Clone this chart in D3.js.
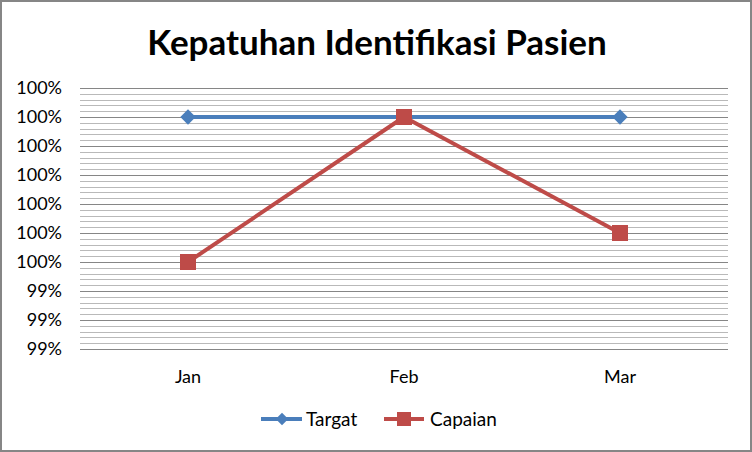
<!DOCTYPE html>
<html>
<head>
<meta charset="utf-8">
<title>Kepatuhan Identifikasi Pasien</title>
<script src="https://cdn.jsdelivr.net/npm/d3@7"></script>
<style>
  body { margin: 0; background: #fff; }
  text { font-family: Lato, "Open Sans", sans-serif; fill: #000; }
</style>
</head>
<body>
<script>
// data
var months = ["Jan", "Feb", "Mar"];
var targat = [1.000, 1.000, 1.000];
var capaian = [0.995, 1.000, 0.996];
var yTicks = [1.001, 1.000, 0.999, 0.998, 0.997, 0.996, 0.995, 0.994, 0.993, 0.992];
var yTickLabels = ["100%", "100%", "100%", "100%", "100%", "100%", "100%", "99%", "99%", "99%"];

var w = 752, h = 452;
var blue = "#4a7ebb", red = "#be4b48";

var svg = d3.select("body").append("svg")
  .attr("width", w)
  .attr("height", h);

// outer frame
svg.append("rect")
  .attr("x", 1).attr("y", 1)
  .attr("width", w - 2).attr("height", h - 2)
  .attr("fill", "#fff")
  .attr("stroke", "#868686")
  .attr("stroke-width", 2);

var x = d3.scalePoint().domain(months).range([80, 728]).padding(0.5);
var y = d3.scaleLinear().domain([0.992, 1.001]).range([349, 88]);

// minor gridlines (5 per major step)
var minor = d3.range(0, 45).map(function(i) { return 0.992 + i * 0.0002; })
  .filter(function(d, i) { return i % 5 != 0; });
svg.append("g").selectAll("line")
  .data(minor)
  .enter()
  .append("line")
  .attr("x1", 80).attr("x2", 728)
  .attr("y1", function(d) { return Math.round(y(d)) + 0.5; })
  .attr("y2", function(d) { return Math.round(y(d)) + 0.5; })
  .attr("stroke", "#b9b9b9")
  .attr("stroke-width", 1);

// major gridlines
svg.append("g").selectAll("line")
  .data(yTicks)
  .enter()
  .append("line")
  .attr("x1", 80).attr("x2", 728)
  .attr("y1", function(d) { return Math.round(y(d)) + 0.5; })
  .attr("y2", function(d) { return Math.round(y(d)) + 0.5; })
  .attr("stroke", "#868686")
  .attr("stroke-width", 1);

// y labels
svg.append("g").selectAll("text")
  .data(yTicks)
  .enter()
  .append("text")
  .attr("x", 62)
  .attr("y", function(d) { return y(d); })
  .attr("dy", "0.35em")
  .attr("text-anchor", "end")
  .attr("font-size", "18px")
  .text(function(d, i) { return yTickLabels[i]; });

// x labels
svg.append("g").selectAll("text")
  .data(months)
  .enter()
  .append("text")
  .attr("x", function(d) { return x(d); })
  .attr("y", 377)
  .attr("dy", "0.35em")
  .attr("text-anchor", "middle")
  .attr("font-size", "18px")
  .text(function(d) { return d; });

// title
svg.append("text")
  .attr("x", 377)
  .attr("y", 55)
  .attr("text-anchor", "middle")
  .attr("font-size", "35px")
  .attr("font-weight", "bold")
  .text("Kepatuhan Identifikasi Pasien");

var line = d3.line()
  .x(function(d, i) { return x(months[i]); })
  .y(function(d) { return y(d); });

svg.append("path")
  .datum(targat)
  .attr("d", line)
  .attr("fill", "none")
  .attr("stroke", blue)
  .attr("stroke-width", 4)
  .attr("stroke-linejoin", "round");

svg.append("g").selectAll("path")
  .data(targat)
  .enter()
  .append("path")
  .attr("d", d3.symbol().type(d3.symbolDiamond2).size(150))
  .attr("transform", function(d, i) { return "translate(" + x(months[i]) + "," + y(d) + ")"; })
  .attr("fill", blue);

svg.append("path")
  .datum(capaian)
  .attr("d", line)
  .attr("fill", "none")
  .attr("stroke", red)
  .attr("stroke-width", 4)
  .attr("stroke-linejoin", "round");

svg.append("g").selectAll("rect")
  .data(capaian)
  .enter()
  .append("rect")
  .attr("x", function(d, i) { return x(months[i]) - 8; })
  .attr("y", function(d) { return y(d) - 8; })
  .attr("width", 16)
  .attr("height", 16)
  .attr("fill", red);

// legend
var legend = svg.append("g");
legend.append("line")
  .attr("x1", 261).attr("x2", 302).attr("y1", 419).attr("y2", 419)
  .attr("stroke", blue).attr("stroke-width", 4);
legend.append("path")
  .attr("d", d3.symbol().type(d3.symbolDiamond2).size(100))
  .attr("transform", "translate(282,419)")
  .attr("fill", blue);
legend.append("text")
  .attr("x", 306).attr("y", 419).attr("dy", "0.35em")
  .attr("font-size", "19px")
  .text("Targat");

legend.append("line")
  .attr("x1", 384).attr("x2", 424).attr("y1", 419).attr("y2", 419)
  .attr("stroke", red).attr("stroke-width", 4);
legend.append("rect")
  .attr("x", 397).attr("y", 412).attr("width", 14).attr("height", 14)
  .attr("fill", red);
legend.append("text")
  .attr("x", 430).attr("y", 419).attr("dy", "0.35em")
  .attr("font-size", "19px")
  .text("Capaian");
</script>
</body>
</html>
